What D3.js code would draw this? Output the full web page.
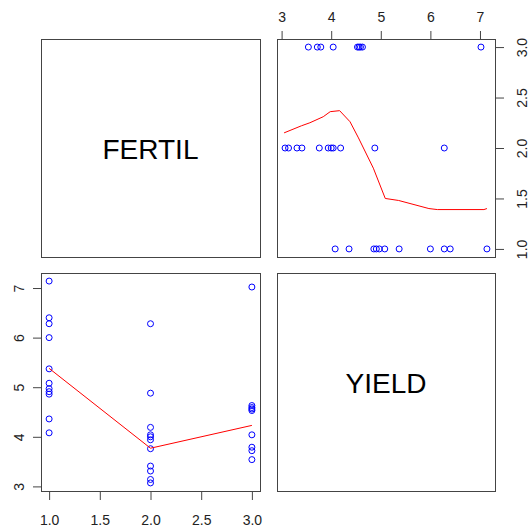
<!DOCTYPE html>
<html><head><meta charset="utf-8">
<script src="https://cdn.jsdelivr.net/npm/d3@7"></script>
<style>body{margin:0;background:#fff}svg{display:block}text{font-family:"Liberation Sans",Arial,sans-serif}</style>
</head><body>
<script>
// Data: FERTIL level and YIELD for each observation
const fertil = [1,1,1,1,1,1,1,1,1,1,1, 2,2,2,2,2,2,2,2,2,2,2, 3,3,3,3,3,3,3,3,3];
const yieldV = [4.08,4.36,4.86,4.91,4.97,5.08,5.37,6.00,6.28,6.40,7.14,
                3.07,3.14,3.31,3.41,3.76,3.94,4.00,4.04,4.19,4.88,6.28,
                3.54,3.72,3.79,4.04,4.53,4.56,4.59,4.63,7.02];
// Smoother: FERTIL vs YIELD (bottom-left)
const smoothFx = [1,2,3];
const smoothFy = [5.38,3.77,4.23];
// Smoother: YIELD (x) vs FERTIL (y) (top-right)
const smoothYx = [3.05,3.40,3.57,3.84,3.98,4.17,4.38,4.55,4.85,5.09,5.36,5.97,6.14,7.08,7.14];
const smoothYy = [2.15,2.22,2.25,2.31,2.36,2.37,2.26,2.10,1.80,1.50,1.48,1.40,1.39,1.39,1.40];
const fertilTicks = [1.0,1.5,2.0,2.5,3.0];
const yieldTicks = [3,4,5,6,7];
const varNames = ["FERTIL","YIELD"];

const W=529,H=529;
const svg=d3.select("body").append("svg").attr("width",W).attr("height",H);
const colX=[[41,260],[277,495]], rowY=[[39,257],[273,491]];
const boxColor="#444";

function ext(arr){const e=d3.extent(arr);const r=e[1]-e[0];return [e[0]-0.04*r,e[1]+0.04*r];}
const domF=ext(fertil), domY=ext(yieldV);

// panel boxes
for(let r=0;r<2;r++)for(let c=0;c<2;c++){
  svg.append("rect").attr("x",colX[c][0]+0.5).attr("y",rowY[r][0]+0.5)
    .attr("width",colX[c][1]-colX[c][0]).attr("height",rowY[r][1]-rowY[r][0])
    .attr("fill","none").attr("stroke",boxColor).attr("stroke-width",1);
}
// diagonal labels
varNames.forEach((n,i)=>{
  const cx=(colX[i][0]+colX[i][1])/2, cy=(rowY[i][0]+rowY[i][1])/2;
  svg.append("text").attr("x",cx).attr("y",cy+10.5).attr("text-anchor","middle")
    .attr("font-size",28).attr("fill","#000").text(n);
});

// Top-right: x=YIELD, y=FERTIL
const xTR=d3.scaleLinear().domain(domY).range(colX[1]);
const yTR=d3.scaleLinear().domain(domF).range([rowY[0][1],rowY[0][0]]);
// Bottom-left: x=FERTIL, y=YIELD
const xBL=d3.scaleLinear().domain(domF).range(colX[0]);
const yBL=d3.scaleLinear().domain(domY).range([rowY[1][1],rowY[1][0]]);

function styleAxis(g){
  g.select(".domain").attr("stroke",boxColor);
  g.selectAll(".tick line").attr("stroke",boxColor);
  g.selectAll(".tick text").attr("font-size",14).attr("fill","#222")
    .attr("font-family","Liberation Sans, Arial, sans-serif");
}
// top axis (YIELD)
const gTop=svg.append("g").attr("transform",`translate(0,${rowY[0][0]+0.5})`)
  .call(d3.axisTop(xTR).tickValues(yieldTicks).tickFormat(d3.format("d")).tickSize(8.5).tickSizeOuter(0).tickPadding(4));
styleAxis(gTop);
gTop.select(".domain").attr("d",`M${xTR(yieldTicks[0])},-8.5V0H${xTR(yieldTicks[4])}V-8.5`).attr("d",`M${xTR(yieldTicks[0])+0.5},0H${xTR(yieldTicks[4])+0.5}`);
gTop.select(".domain").remove();
gTop.selectAll(".tick text").attr("y",-17.5);
// bottom axis (FERTIL)
const gBot=svg.append("g").attr("transform",`translate(0,${rowY[1][1]+0.5})`)
  .call(d3.axisBottom(xBL).tickValues(fertilTicks).tickFormat(d3.format(".1f")).tickSize(8.5).tickSizeOuter(0));
styleAxis(gBot);
gBot.select(".domain").remove();
gBot.selectAll(".tick text").attr("y",33.5).attr("dy",0);
// right axis (FERTIL) rotated labels
const gRight=svg.append("g").attr("transform",`translate(${colX[1][1]+0.5},0)`)
  .call(d3.axisRight(yTR).tickValues(fertilTicks).tickFormat(d3.format(".1f")).tickSize(8.5).tickSizeOuter(0));
styleAxis(gRight);
gRight.select(".domain").remove();
gRight.selectAll(".tick text").attr("x",null).attr("dy",null).attr("text-anchor","middle")
  .attr("transform","translate(31,0) rotate(-90)");
// left axis (YIELD)
const gLeft=svg.append("g").attr("transform",`translate(${colX[0][0]+0.5},0)`)
  .call(d3.axisLeft(yBL).tickValues(yieldTicks).tickFormat(d3.format("d")).tickSize(8.5).tickSizeOuter(0));
styleAxis(gLeft);
gLeft.select(".domain").remove();
gLeft.selectAll(".tick text").attr("x",null).attr("dy",null).attr("text-anchor","middle")
  .attr("transform","translate(-18,0) rotate(-90)");

// points
const pts=d3.range(fertil.length).map(i=>({f:fertil[i],y:yieldV[i]}));
svg.append("g").selectAll("circle").data(pts).join("circle")
  .attr("cx",d=>xTR(d.y)).attr("cy",d=>yTR(d.f)).attr("r",3)
  .attr("fill","none").attr("stroke","#0000ff").attr("stroke-width",1);
svg.append("g").selectAll("circle").data(pts).join("circle")
  .attr("cx",d=>xBL(d.f)).attr("cy",d=>yBL(d.y)).attr("r",3)
  .attr("fill","none").attr("stroke","#0000ff").attr("stroke-width",1);

// smoothers
const lineTR=d3.line().x(d=>xTR(d[0])).y(d=>yTR(d[1]));
svg.append("path").attr("d",lineTR(d3.zip(smoothYx,smoothYy))).attr("fill","none").attr("stroke","#ff0000").attr("stroke-width",1);
const lineBL=d3.line().x(d=>xBL(d[0])).y(d=>yBL(d[1]));
svg.append("path").attr("d",lineBL(d3.zip(smoothFx,smoothFy))).attr("fill","none").attr("stroke","#ff0000").attr("stroke-width",1);
</script>
</body></html>
